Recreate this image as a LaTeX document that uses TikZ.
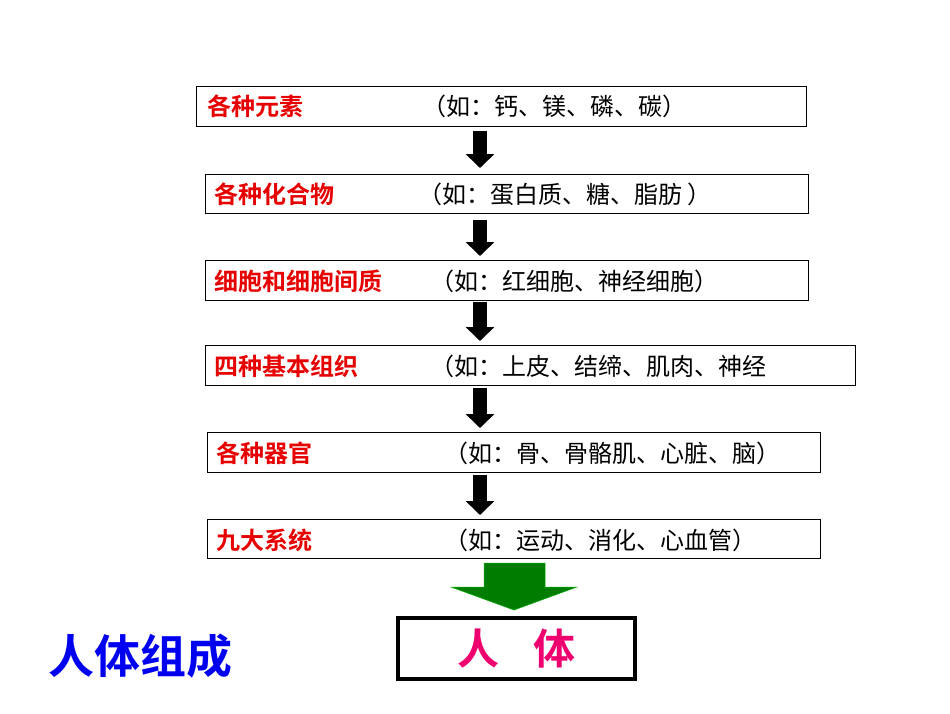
\documentclass[tikz,border=0pt]{standalone}
\usepackage{fontspec}
\newfontfamily\cjk{Noto Sans CJK SC}
\newfontfamily\cjkb{Noto Sans CJK SC Bold}
\usetikzlibrary{arrows.meta}
\definecolor{redt}{RGB}{230,0,0}
\definecolor{pinkt}{RGB}{240,0,110}
\definecolor{bluet}{RGB}{0,0,240}
\definecolor{greenf}{RGB}{0,125,0}
\begin{document}
\begin{tikzpicture}[x=1pt,y=-1pt,
  box/.style={draw=black,line width=1.2pt,anchor=north west,inner sep=0pt},
  lab/.style={anchor=west,text=redt,font=\cjkb\fontsize{24}{24}\selectfont,inner sep=0pt},
  ex/.style={anchor=west,text=black,font=\cjk\fontsize{24}{24}\selectfont,inner sep=0pt},
  darrow/.style={line width=14pt,-{Triangle[width=28pt,length=14pt]}}]
\useasboundingbox[fill=white] (0,0) rectangle (950,713);
\node[box,minimum width=610pt,minimum height=40pt] (b1) at (196,86) {};
\node[box,minimum width=603pt,minimum height=39pt] (b2) at (205,174) {};
\node[box,minimum width=603pt,minimum height=40pt] (b3) at (205,260) {};
\node[box,minimum width=650pt,minimum height=40pt] (b4) at (205,345) {};
\node[box,minimum width=613pt,minimum height=40pt] (b5) at (207,432) {};
\node[box,minimum width=613pt,minimum height=39pt] (b6) at (207,519) {};
\node[lab] (l1) at (207,106) {各种元素};
\node[ex] (e1) at (422,106) {（如：钙、镁、磷、碳）};
\node[lab] (l2) at (214,194) {各种化合物};
\node[ex] (e2) at (418,194) {（如：蛋白质、糖、脂肪 ）};
\node[lab] (l3) at (214,281) {细胞和细胞间质};
\node[ex] (e3) at (430,281) {（如：红细胞、神经细胞）};
\node[lab] (l4) at (214,366) {四种基本组织};
\node[ex] (e4) at (430,366) {（如：上皮、结缔、肌肉、神经};
\node[lab] (l5) at (216,453) {各种器官};
\node[ex] (e5) at (444,453) {（如：骨、骨骼肌、心脏、脑）};
\node[lab] (l6) at (216,540) {九大系统};
\node[ex] (e6) at (444,540) {（如：运动、消化、心血管）};
\coordinate (a1s) at (480,131); \coordinate (a1e) at (480,168);
\coordinate (a2s) at (480,220); \coordinate (a2e) at (480,256);
\coordinate (a3s) at (480,302); \coordinate (a3e) at (480,341);
\coordinate (a4s) at (480,388); \coordinate (a4e) at (480,428);
\coordinate (a5s) at (480,475); \coordinate (a5e) at (480,515);
\draw[darrow] (a1s) -- (a1e);
\draw[darrow] (a2s) -- (a2e);
\draw[darrow] (a3s) -- (a3e);
\draw[darrow] (a4s) -- (a4e);
\draw[darrow] (a5s) -- (a5e);
\node[draw=black,line width=4pt,minimum width=237pt,minimum height=61pt,anchor=north west,inner sep=0pt] (rt) at (396,616) {};
\node[text=pinkt,font=\cjkb\fontsize{42}{42}\selectfont] (rtl) at (rt.center) {人\hspace{0.8em}体};
\draw[fill=greenf,draw=green!70!black,line width=0.5pt] (484,563) -- (545,563) -- (545,587) -- (577,587) -- (514,610) -- (451,587) -- (484,587) -- cycle;
\node[anchor=west,text=bluet,font=\cjkb\fontsize{46}{46}\selectfont,inner sep=0pt] (title) at (48,656) {人体组成};
\end{tikzpicture}
\end{document}
